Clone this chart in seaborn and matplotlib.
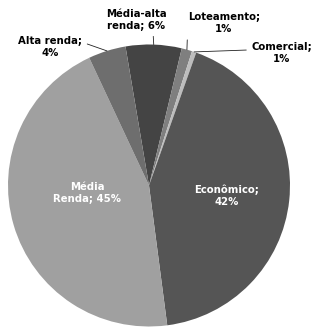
import numpy as np
import matplotlib
matplotlib.use("Agg")
import matplotlib.pyplot as plt
import seaborn as sns

# slice order clockwise, starting at the top (Média-alta)
categories = ["Média-alta renda", "Loteamento", "Comercial", "Econômico", "Média Renda", "Alta renda"]
shares = [6.4, 1.2, 0.5, 42.5, 45.1, 4.3]
labels = ["Média-alta\nrenda; 6%", "Loteamento;\n1%", "Comercial;\n1%",
          "Econômico;\n42%", "Média\nRenda; 45%", "Alta renda;\n4%"]
colors = ["#444444", "#7f7f7f", "#bdbdbd", "#555555", "#a0a0a0", "#6e6e6e"]

sns.set_theme(style="white")
plt.rcParams['font.family'] = ['DejaVu Sans']

W, H = 315, 329
cx, cy, r = 149, 185.5, 141

fig = plt.figure(figsize=(W / 100, H / 100), dpi=100)
ax = fig.add_axes([(cx - r) / W, (H - cy - r) / H, 2 * r / W, 2 * r / H])

wedges, _ = ax.pie(shares, colors=colors, startangle=99.6, counterclock=False,
                   radius=1.0, wedgeprops=dict(linewidth=0))
ax.set_xlim(-1, 1)
ax.set_ylim(-1, 1)
ax.axis('off')


def px(x, y):
    # pixel position -> data coords of the pie axes
    return ((x - cx) / r, (cy - y) / r)


# label placement (pixel centre), leader relpos or None for inside labels
label_spots = {
    "Média-alta renda": ((136, 20), (0.78, 0.0)),
    "Loteamento": ((224, 23.5), (0.0, 0.62)),
    "Comercial": ((282, 52.5), (0.0, 0.62)),
    "Econômico": ((227, 196), None),
    "Média Renda": ((87, 193.5), None),
    "Alta renda": ((50, 47), (1.0, 0.72)),
}

for w, cat, lab in zip(wedges, categories, labels):
    (lx, ly), rel = label_spots[cat]
    mid = np.deg2rad((w.theta1 + w.theta2) / 2)
    edge = (np.cos(mid), np.sin(mid))
    if rel is None:
        ax.text(*px(lx, ly), lab, ha='center', va='center', color='white',
                fontsize=7.3, fontweight='bold', linespacing=1.25)
    else:
        ax.annotate(lab, xy=edge, xytext=px(lx, ly), ha='center', va='center',
                    fontsize=7.3, fontweight='bold', color='black', linespacing=1.25,
                    annotation_clip=False,
                    arrowprops=dict(arrowstyle='-', color='#222222', lw=0.6,
                                    relpos=rel, shrinkA=1.5, shrinkB=0))

fig.savefig("out.png", dpi=100)
